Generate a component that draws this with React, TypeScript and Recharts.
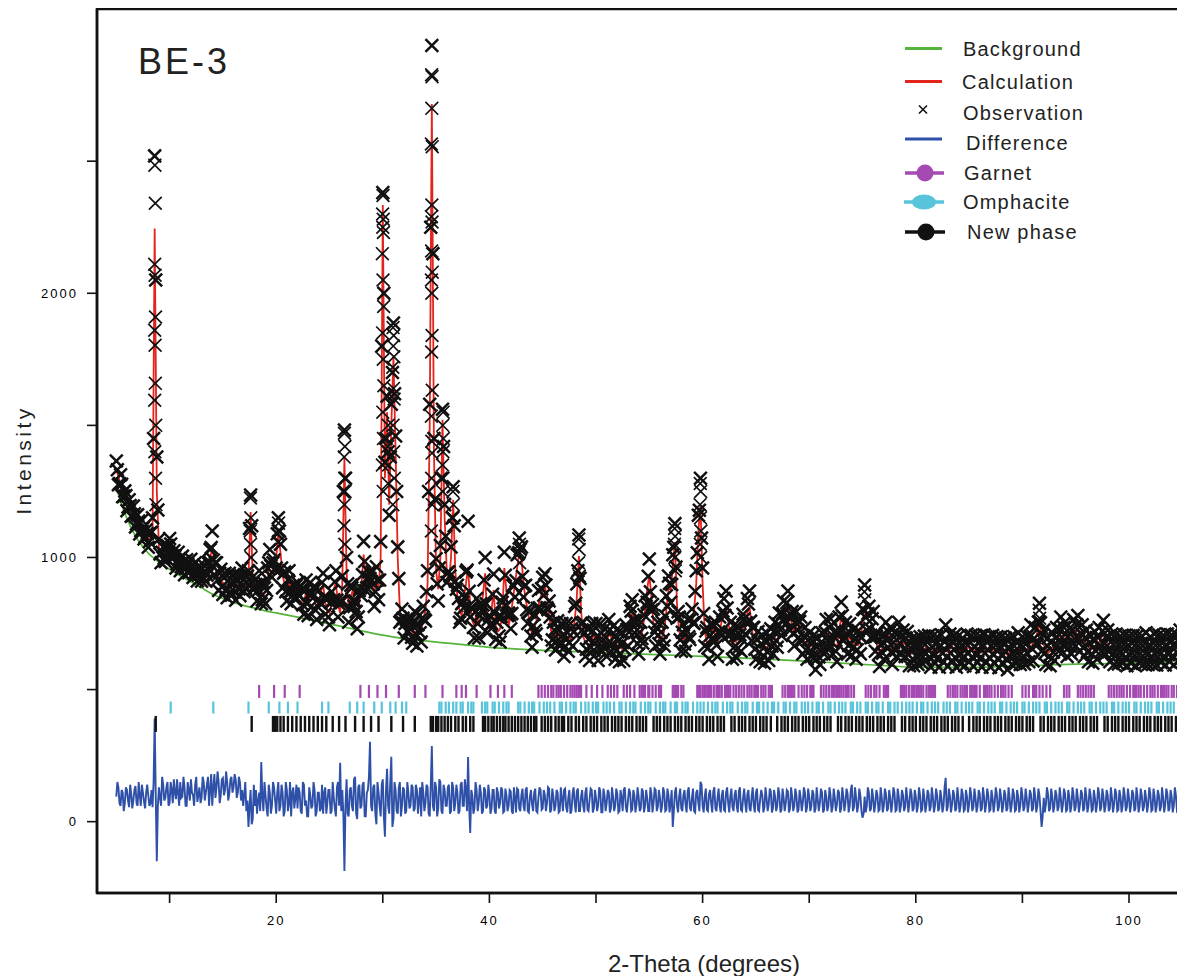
import React from 'react';
import { ComposedChart, Line, Scatter, XAxis, YAxis, ReferenceArea } from 'recharts';

// 2-theta grid of the measured pattern
const ANGLE_START = 5.0;
const ANGLE_STEP = 0.2;

// calculated profile: one row per degree (x.0, x.2, x.4, x.6, x.8)
const calculation = [
  1335, 1305, 1278, 1255, 1232,
  1212, 1193, 1176, 1160, 1145,
  1132, 1119, 1106, 1095, 1084,
  1074, 1068, 1100, 2245, 1250,
  1040, 1010, 1005, 1010, 1025,
  1042, 1035, 1000, 990, 985,
  980, 975, 970, 966, 962,
  958, 954, 950, 946, 944,
  940, 936, 935, 950, 995,
  1040, 980, 940, 920, 910,
  905, 900, 898, 895, 892,
  890, 888, 892, 900, 910,
  915, 890, 930, 1172, 920,
  870, 885, 905, 870, 860,
  870, 920, 1000, 965, 945,
  1000, 1091, 1020, 930, 900,
  880, 910, 870, 850, 890,
  860, 900, 840, 830, 870,
  820, 860, 905, 840, 810,
  830, 870, 900, 830, 800,
  790, 830, 880, 905, 820,
  790, 900, 1378, 950, 800,
  850, 880, 790, 770, 830,
  900, 1011, 920, 880, 960,
  900, 860, 920, 880, 1000,
  2334, 1300, 1550, 1200, 1500,
  1760, 1400, 1000, 800, 760,
  740, 720, 760, 730, 715,
  750, 710, 740, 720, 770,
  800, 900, 1500, 2716, 1400,
  950, 880, 1000, 1521, 1150,
  950, 900, 1000, 1218, 950,
  850, 800, 780, 850, 900,
  964, 820, 760, 740, 800,
  740, 780, 860, 940, 760,
  730, 800, 877, 740, 720,
  730, 780, 960, 870, 740,
  780, 839, 900, 960, 1017,
  1000, 900, 840, 800, 740,
  710, 730, 760, 820, 850,
  870, 888, 860, 780, 720,
  700, 705, 700, 720, 690,
  680, 690, 700, 690, 720,
  760, 850, 1005, 800, 700,
  680, 670, 665, 690, 705,
  690, 665, 690, 700, 670,
  680, 710, 700, 680, 670,
  668, 660, 655, 665, 690,
  720, 760, 790, 770, 700,
  690, 700, 730, 800, 880,
  934, 850, 750, 720, 700,
  690, 700, 720, 800, 880,
  880, 960, 1058, 820, 720,
  700, 690, 700, 710, 740,
  750, 800, 900, 1100, 1198,
  900, 720, 680, 670, 690,
  740, 700, 680, 720, 760,
  790, 813, 760, 700, 670,
  690, 675, 680, 700, 730,
  760, 790, 813, 740, 680,
  670, 665, 660, 650, 655,
  660, 665, 675, 690, 700,
  715, 735, 760, 780, 800,
  813, 780, 740, 720, 740,
  752, 720, 690, 680, 670,
  660, 680, 650, 630, 640,
  650, 660, 690, 710, 713,
  713, 690, 665, 660, 720,
  776, 740, 700, 690, 694,
  685, 675, 670, 668, 690,
  750, 810, 780, 760, 751,
  740, 700, 660, 642, 650,
  670, 700, 715, 680, 650,
  660, 680, 700, 690, 670,
  680, 665, 645, 637, 645,
  640, 650, 645, 655, 648,
  665, 650, 640, 648, 655,
  645, 640, 652, 660, 650,
  642, 655, 665, 650, 640,
  648, 652, 640, 645, 655,
  660, 650, 642, 650, 658,
  648, 640, 652, 660, 645,
  640, 650, 655, 645, 638,
  645, 655, 640, 630, 642,
  650, 645, 655, 660, 650,
  645, 652, 648, 660, 690,
  663, 680, 720, 755, 700,
  670, 650, 640, 645, 660,
  665, 680, 700, 720, 725,
  700, 680, 676, 690, 710,
  720, 725, 700, 690, 680,
  670, 660, 650, 655, 665,
  670, 680, 700, 707, 690,
  670, 660, 655, 650, 655,
  652, 648, 655, 650, 645,
  648, 655, 650, 645, 650,
  655, 648, 652, 660, 650,
  645, 650, 655, 648, 652,
  658, 650, 648, 655, 660,
  652, 648, 655, 662, 670,
  675, 680, 685,
];

// observed counts on the same grid (x.0, x.2, x.4, x.6, x.8)
const observation = [
  1365, 1275, 1313, 1230, 1252,
  1177, 1218, 1156, 1195, 1115,
  1162, 1089, 1141, 1070, 1104,
  1039, 1093, 1150, 2520, 1380,
  1070, 980, 1040, 985, 1045,
  1072, 1000, 1025, 960, 1020,
  950, 1005, 935, 991, 942,
  993, 924, 980, 911, 969,
  910, 971, 910, 980, 1030,
  1100, 935, 980, 875, 955,
  860, 940, 848, 940, 857,
  935, 838, 932, 855, 960,
  870, 925, 950, 1236, 880,
  915, 835, 950, 825, 905,
  825, 960, 1030, 925, 990,
  960, 1150, 1050, 885, 945,
  835, 950, 825, 895, 850,
  905, 855, 880, 785, 915,
  780, 905, 865, 885, 765,
  875, 825, 940, 785, 845,
  745, 870, 840, 950, 775,
  835, 930, 1482, 1000, 755,
  895, 835, 835, 730, 875,
  855, 1061, 875, 925, 920,
  945, 815, 965, 840, 1060,
  2381, 1360, 1610, 1160, 1580,
  1887, 1460, 1040, 755, 805,
  695, 765, 720, 775, 675,
  795, 665, 780, 680, 815,
  760, 950, 1580, 2938, 1450,
  995, 835, 1045, 1561, 1200,
  905, 945, 1040, 1268, 910,
  895, 755, 825, 810, 945,
  1137, 775, 805, 695, 845,
  695, 825, 820, 1000, 715,
  780, 750, 937, 690, 775,
  680, 830, 1020, 820, 790,
  730, 894, 850, 1010, 1074,
  1040, 850, 895, 750, 795,
  660, 785, 710, 875, 800,
  925, 938, 810, 835, 665,
  755, 650, 760, 665, 750,
  625, 750, 645, 750, 665,
  815, 900, 1085, 750, 755,
  625, 730, 610, 750, 650,
  750, 610, 750, 645, 730,
  625, 765, 645, 740, 615,
  728, 605, 715, 610, 745,
  665, 815, 840, 715, 755,
  635, 755, 675, 855, 830,
  994, 800, 805, 665, 755,
  635, 755, 665, 855, 930,
  830, 1010, 1128, 770, 775,
  645, 745, 645, 765, 690,
  805, 750, 950, 1160, 1300,
  960, 665, 735, 615, 745,
  685, 755, 625, 775, 705,
  845, 873, 705, 755, 615,
  745, 620, 735, 645, 785,
  710, 845, 873, 685, 735,
  615, 720, 605, 705, 600,
  715, 610, 730, 635, 755,
  660, 790, 705, 835, 750,
  873, 725, 795, 665, 795,
  697, 775, 635, 735, 615,
  715, 625, 705, 575, 695,
  595, 715, 635, 765, 663,
  768, 635, 720, 605, 775,
  831, 685, 755, 635, 749,
  630, 730, 615, 723, 635,
  805, 896, 725, 815, 696,
  795, 645, 715, 587, 705,
  615, 755, 660, 735, 595,
  715, 625, 755, 635, 725,
  625, 720, 590, 692, 590,
  695, 595, 700, 600, 703,
  610, 705, 585, 703, 600,
  700, 585, 707, 605, 744,
  587, 710, 610, 705, 585,
  703, 597, 695, 590, 710,
  605, 705, 587, 705, 603,
  703, 585, 707, 605, 700,
  585, 705, 600, 700, 583,
  700, 600, 695, 575, 697,
  595, 700, 600, 715, 595,
  700, 597, 703, 605, 745,
  608, 735, 670, 827, 645,
  725, 595, 695, 590, 715,
  610, 735, 645, 775, 670,
  755, 625, 731, 635, 765,
  665, 780, 645, 745, 625,
  725, 605, 705, 600, 720,
  615, 735, 645, 762, 635,
  725, 605, 710, 595, 710,
  597, 703, 600, 705, 590,
  703, 600, 705, 590, 705,
  600, 703, 597, 715, 595,
  700, 595, 710, 593, 707,
  603, 705, 593, 710, 605,
  707, 593, 710, 607, 725,
  620, 735, 630,
];

// observed counts on the intermediate steps (x.1, x.3, x.5, x.7, x.9)
const observationHalf = [
  1332, 1280, 1277, 1232, 1234,
  1191, 1197, 1158, 1165, 1127,
  1138, 1101, 1111, 1078, 1091,
  1060, 1095, 1450, 2050, 1180,
  1013, 1020, 998, 1030, 1022,
  1051, 1006, 1005, 976, 995,
  966, 985, 958, 976, 948,
  968, 940, 958, 933, 954,
  926, 948, 933, 985, 1038,
  990, 980, 915, 940, 888,
  923, 879, 912, 869, 911,
  869, 910, 881, 930, 893,
  885, 930, 1110, 1120, 880,
  898, 875, 903, 840, 885,
  875, 980, 968, 980, 953,
  1090, 1100, 960, 940, 870,
  915, 870, 875, 845, 895,
  860, 890, 820, 875, 825,
  860, 863, 888, 800, 840,
  830, 905, 850, 840, 775,
  830, 835, 908, 838, 825,
  830, 1250, 1300, 900, 810,
  885, 815, 795, 775, 885,
  935, 985, 885, 945, 910,
  900, 870, 915, 915, 1800,
  2000, 1450, 1400, 1380, 1700,
  1620, 1250, 920, 760, 770,
  750, 720, 760, 698, 753,
  710, 745, 715, 770, 765,
  870, 1250, 2250, 2150, 1220,
  900, 960, 1300, 1420, 1080,
  945, 930, 1150, 1120, 880,
  845, 770, 830, 850, 952,
  872, 810, 735, 795, 750,
  780, 800, 915, 825, 765,
  743, 861, 791, 755, 703,
  777, 848, 933, 780, 782,
  788, 892, 912, 1014, 1031,
  928, 892, 802, 795, 703,
  742, 723, 808, 810, 882,
  857, 896, 802, 775, 688,
  725, 681, 728, 680, 707,
  663, 717, 677, 730, 718,
  827, 950, 921, 725, 712,
  653, 690, 660, 723, 676,
  700, 656, 713, 660, 697,
  673, 727, 672, 700, 647,
  686, 636, 678, 653, 727,
  718, 797, 762, 760, 673,
  717, 693, 783, 815, 929,
  870, 822, 717, 735, 673,
  717, 688, 778, 815, 902,
  898, 1039, 964, 795, 688,
  717, 673, 723, 700, 767,
  753, 872, 1018, 1179, 1074,
  788, 722, 657, 705, 693,
  742, 668, 718, 715, 797,
  780, 809, 712, 710, 658,
  705, 656, 708, 690, 767,
  753, 824, 759, 735, 653,
  690, 641, 673, 628, 680,
  641, 692, 665, 720, 686,
  747, 726, 788, 765, 829,
  775, 782, 712, 755, 724,
  758, 683, 703, 650, 687,
  648, 687, 622, 660, 623,
  677, 653, 718, 687, 735,
  680, 700, 645, 715, 726,
  780, 698, 713, 667, 712,
  658, 695, 651, 704, 698,
  802, 773, 788, 731, 768,
  698, 702, 633, 671, 638,
  707, 686, 716, 640, 677,
  648, 712, 677, 705, 653,
  695, 633, 659, 616, 665,
  623, 670, 632, 677, 635,
  680, 623, 662, 627, 672,
  621, 668, 638, 680, 624,
  671, 638, 676, 620, 666,
  628, 668, 625, 675, 636,
  677, 624, 664, 629, 675,
  622, 668, 638, 678, 621,
  667, 631, 668, 617, 664,
  628, 670, 617, 661, 624,
  670, 628, 676, 630, 670,
  627, 672, 636, 700, 655,
  694, 678, 756, 753, 707,
  638, 667, 625, 678, 641,
  695, 668, 728, 698, 735,
  668, 700, 665, 725, 693,
  745, 691, 713, 660, 697,
  643, 677, 635, 685, 646,
  697, 668, 722, 674, 702,
  643, 680, 635, 678, 632,
  672, 630, 671, 623, 669,
  630, 675, 630, 673, 631,
  674, 628, 674, 630, 670,
  626, 675, 634, 675, 633,
  676, 627, 670, 633, 678,
  628, 674, 641, 691, 651,
  700, 661,
];

// difference curve (shifted) on the main grid
const difference = [
  95, 130, 60, 110, 70,
  120, 55, 105, 80, 135,
  60, 100, 140, 75, 110,
  100, 70, 55, 390, -150,
  130, 60, 140, 90, 150,
  70, 120, 160, 85, 110,
  150, 95, 130, 60, 120,
  160, 100, 140, 75, 130,
  90, 150, 110, 170, 120,
  60, 180, 130, 150, 100,
  165, 120, 150, 105, 170,
  130, 160, 110, 150, 120,
  100, 40, -20, 120, 10,
  60, 30, 110, 226, 40,
  100, 20, 110, 60, 130,
  30, 150, 60, 110, 40,
  120, 70, 20, 130, 90,
  50, 110, 30, 140, 80,
  20, 100, 60, 120, 40,
  110, 50, 30, 130, 70,
  120, 40, 90, 20, 150,
  223, 120, -187, 160, 20,
  130, 40, 170, 10, 140,
  60, 150, 20, 120, 302,
  40, 140, -10, 110, 20,
  160, -57, 200, 30, 246,
  10, 120, 30, 150, 60,
  120, 40, 110, 60, 130,
  50, 120, 80, 20, 110,
  70, 130, 20, 286, 40,
  130, 50, 150, 30, 120,
  60, 140, 40, 130, 70,
  110, 40, 150, 60, 120,
  245, -43, 100, 50, 120,
  70, 110, 40, 120, 60,
  100, 50, 120, 30, 110,
  70, 120, 40, 100, 60,
  115, 30, 90, 125, 50,
  100, 60, 120, 40, 95,
  65, 110, 40, 90, 120,
  50, 100, 70, 125, 45,
  95, 60, 110, 40, 85,
  120, 55, 90, 30, 105,
  70, 115, 40, 95, 60,
  110, 45, 85, 120, 50,
  90, 60, 115, 35, 100,
  70, 110, 50, 95, 60,
  105, 40, 90, 120, 55,
  80, 110, 45, 100, 65,
  95, 50, 115, 60, 90,
  40, 105, 70, 120, 55,
  90, 60, 110, 45, 100,
  70, -20, 110, 60, 95,
  50, 100, 65, 115, 55,
  90, 40, 110, 70, 151,
  60, 95, 45, 105, 70,
  115, 50, 90, 60, 100,
  45, 110, 70, 95, 55,
  100, 60, 115, 45, 90,
  70, 105, 50, 95, 60,
  110, 45, 85, 100, 55,
  90, 65, 115, 50, 95,
  60, 105, 45, 90, 70,
  115, 50, 95, 60, 100,
  45, 90, 70, 110, 55,
  95, 60, 105, 50, 85,
  70, 110, 45, 95, 60,
  100, 55, 90, 65, 110,
  50, 95, 70, 105, 60,
  140, 55, 90, 60, 100,
  15, 95, 60, 110, 50,
  90, 65, 100, 45, 95,
  60, 105, 50, 90, 70,
  110, 45, 95, 60, 100,
  55, 90, 70, 105, 50,
  95, 60, 100, 45, 90,
  65, 105, 55, 95, 60,
  100, 50, 90, 60, 166,
  55, 95, 65, 100, 50,
  90, 60, 105, 45, 95,
  65, 100, 55, 90, 60,
  105, 50, 95, 65, 100,
  45, 90, 70, 105, 55,
  95, 60, 100, 50, 90,
  65, 105, 45, 95, 60,
  100, 55, 90, 65, 105,
  50, 95, 60, 100, -20,
  90, 65, 105, 50, 95,
  60, 100, 55, 90, 65,
  105, 45, 95, 60, 100,
  55, 90, 65, 105, 50,
  95, 60, 100, 45, 90,
  65, 105, 55, 95, 60,
  100, 50, 90, 65, 105,
  45, 95, 60, 100, 55,
  90, 65, 105, 50, 95,
  60, 100, 55, 90, 65,
  105, 45, 95, 60, 100,
  55, 90, 65, 105, 50,
  95, 60, 100, 45, 90,
  65, 100, 55,
];

// difference curve on the intermediate steps (x.1, x.3, x.5, x.7, x.9)
const differenceHalf = [
  150, 70, 120, 40, 130,
  80, 140, 50, 120, 70,
  150, 60, 110, 50, 140,
  60, 120, 150, 100, 60,
  90, 170, 80, 130, 60,
  150, 70, 110, 160, 60,
  90, 170, 60, 150, 80,
  110, 60, 170, 100, 70,
  170, 80, 140, 60, 180,
  130, 90, 190, 70, 160,
  100, 190, 80, 160, 110,
  180, 90, 170, 80, 60,
  150, 80, 60, -10, 140,
  120, 80, 40, 90, 150,
  50, 140, 30, 150, 80,
  110, 40, 140, 20, 150,
  40, 150, 110, 50, 140,
  130, 40, 150, 60, 20,
  130, 50, 150, 20, 110,
  40, 140, 110, 30, 120,
  30, 150, 50, 130, 60,
  40, 30, 60, 30, 120,
  60, 160, 30, 130, 50,
  140, 20, 110, 170, 60,
  130, 30, 150, 60, 140,
  20, 120, 60, 150, -20,
  150, 40, 130, 20, 130,
  30, 150, 50, 140, 40,
  140, 30, 130, 150, 40,
  140, 30, 140, 60, 150,
  20, 160, 40, 140, 60,
  130, 30, 150, 40, 140,
  30, 140, 60, 160, 40,
  60, 120, 30, 150, 40,
  140, 30, 130, 50, 140,
  30, 120, 40, 130, 50,
  130, 35, 125, 40, 120,
  40, 130, 35, 120, 40,
  125, 40, 130, 35, 120,
  40, 125, 35, 130, 45,
  120, 40, 130, 35, 125,
  40, 120, 35, 130, 40,
  125, 35, 120, 40, 130,
  35, 125, 40, 120, 35,
  130, 40, 125, 35, 120,
  40, 130, 35, 125, 40,
  120, 35, 130, 40, 125,
  35, 120, 40, 130, 35,
  125, 40, 120, 35, 130,
  40, 125, 35, 120, 40,
  130, 35, 125, 40, 120,
  35, 130, 40, 125, 35,
  120, 40, 130, 35, 125,
  40, 120, 35, 130, 40,
  125, 35, 120, 40, 140,
  35, 125, 40, 120, 35,
  130, 40, 125, 35, 120,
  40, 130, 35, 125, 40,
  120, 35, 130, 40, 125,
  35, 120, 40, 130, 35,
  125, 40, 120, 35, 130,
  40, 125, 35, 120, 40,
  130, 35, 125, 40, 120,
  35, 130, 40, 125, 35,
  120, 40, 130, 35, 125,
  40, 120, 35, 130, 40,
  125, 35, 120, 40, 130,
  35, 125, 40, 120, 35,
  130, 40, 125, 35, 120,
  40, 130, 35, 125, 40,
  30, 35, 130, 40, 125,
  35, 120, 40, 130, 35,
  125, 40, 120, 35, 130,
  40, 125, 35, 120, 40,
  130, 35, 125, 40, 120,
  35, 130, 40, 125, 35,
  120, 40, 130, 35, 125,
  40, 120, 35, 130, 40,
  125, 35, 120, 40, 130,
  35, 125, 40, 120, 35,
  130, 40, 125, 35, 120,
  40, 130, 35, 125, 40,
  120, 35, 130, 40, 125,
  35, 120, 40, 130, 35,
  125, 40, 120, 35, 130,
  40, 125, 35, 120, 40,
  130, 35, 125, 40, 20,
  35, 130, 40, 125, 35,
  120, 40, 130, 35, 125,
  40, 120, 35, 130, 40,
  125, 35, 120, 40, 130,
  35, 125, 40, 120, 35,
  130, 40, 125, 35, 120,
  40, 130, 35, 125, 40,
  120, 35, 130, 40, 125,
  35, 120, 40, 130, 35,
  125, 40, 120, 35, 130,
  40, 125, 35, 120, 40,
  130, 35, 125, 40, 120,
  35, 130, 40, 125, 35,
  120, 40,
];

// background curve
const backgroundAngle = [5, 5.5, 6, 6.5, 7, 7.5, 8, 9, 10, 11, 12, 13, 14, 15, 16, 17, 18, 19, 20, 22, 24, 26, 28, 30, 32, 34, 36, 38, 40, 42, 45, 50, 55, 60, 65, 70, 73, 76, 80, 85, 90, 95, 100, 103, 105.4];
const backgroundValue = [1268, 1200, 1148, 1104, 1068, 1040, 1016, 982, 955, 931, 908, 885, 862, 845, 830, 818, 808, 798, 790, 774, 757, 740, 722, 706, 693, 684, 676, 668, 660, 655, 648, 641, 633, 626, 617, 607, 600, 593, 585, 584, 590, 596, 600, 604, 614];

// extra observed points stacked on the strong reflections
const peakObsAngle = [
  8.62, 8.66, 8.6, 8.64, 8.68, 8.6, 8.64, 8.66, 8.6, 8.7, 8.62, 8.68, 8.72,
  17.58, 17.62, 17.56, 17.6, 17.64,
  20.22, 20.18, 20.24,
  26.4, 26.44, 26.38, 26.42, 26.46, 26.4, 26.36, 26.44,
  30.02, 29.98, 30.04, 30.0, 30.06, 29.96, 30.02, 30.08, 29.98, 30.04, 30.1, 30.0, 30.06, 29.96, 30.04,
  30.96, 31.02, 30.98, 31.04, 30.94, 31.0, 31.06, 30.96, 31.02, 31.08, 30.94,
  30.5, 30.46, 30.54, 30.5,
  34.58, 34.62, 34.6, 34.56, 34.64, 34.6, 34.56, 34.62, 34.58, 34.64, 34.56, 34.6, 34.62, 34.58, 34.64, 34.56, 34.6, 34.62, 34.58, 34.64, 34.56,
  35.66, 35.62, 35.68, 35.64, 35.6, 35.66, 35.62,
  36.58, 36.62, 36.6,
  42.82, 42.78, 42.84,
  48.38, 48.42, 48.36, 48.44,
  57.38, 57.42, 57.36, 57.4, 57.44,
  59.78, 59.82, 59.76, 59.8, 59.84, 59.78, 59.82,
  75.18, 75.22,
  91.58, 91.62,
];
const peakObsValue = [
  2485, 2341, 2110, 2068, 1910, 1860, 1803, 1659, 1595, 1500, 1400, 1300, 1200,
  1225, 1150, 1100, 1050, 1000,
  1130, 1100, 1060,
  1470, 1420, 1380, 1300, 1250, 1200, 1120, 1050,
  2370, 2300, 2280, 2250, 2230, 2150, 2050, 1950, 1850, 1750, 1650, 1550, 1450, 1350, 1250,
  1870, 1840, 1800, 1760, 1720, 1640, 1600, 1500, 1400, 1300, 1200,
  1500, 1420, 1350, 1280,
  2827, 2820, 2700, 2565, 2555, 2334, 2290, 2270, 2160, 2080, 2050, 2000, 1840, 1778, 1633, 1535, 1440, 1395, 1300, 1200, 1100,
  1550, 1500, 1450, 1400, 1350, 1300, 1250,
  1250, 1200, 1150,
  1050, 1020, 980,
  1070, 1030, 980, 930,
  1110, 1080, 1050, 1000, 950,
  1280, 1250, 1200, 1150, 1100, 1050, 1000,
  870, 840,
  800, 770,
];

// reflection positions of each phase
const garnetReflections = [
  18.4, 19.8, 20.8, 22.2,
  27.9, 28.7, 29.5, 30.3, 31.5, 33.0, 34.0, 35.6, 36.9, 37.4, 37.8, 38.8,
  40.1, 40.8, 41.4, 42.1, 44.6, 44.9, 45.2, 45.5, 45.8, 46.0, 46.3, 46.5, 46.7, 47.0, 47.3, 47.6, 47.8, 48.0, 48.2, 48.4, 48.6,
  49.1, 49.6, 50.1, 50.6, 51.1, 51.4, 51.7, 52.0, 52.6, 52.9, 53.2, 53.6, 54.1, 54.3, 54.45, 54.6, 54.9, 55.0, 55.3, 55.6,
  55.9, 56.1, 57.2, 57.35, 57.5, 57.7, 58.0, 58.2,
  59.5, 59.65, 59.8, 60.0, 60.15, 60.3, 60.5, 60.65, 60.8, 61.05, 61.3, 61.45, 61.6, 61.8, 62.1, 62.3, 62.45, 62.6, 62.9,
  63.15, 63.4, 63.65, 63.9, 64.2, 64.4, 64.6, 64.85, 65.0, 65.2, 65.5, 65.7, 65.9, 66.2, 66.35, 66.5,
  67.5, 67.75, 68.0, 68.15, 68.3, 68.45, 68.6, 69.0, 69.3, 69.55, 69.8, 70.1, 70.25, 70.4,
  71.1, 71.35, 71.6, 71.85, 72.1, 72.25, 72.4, 72.6, 72.8, 73.0, 73.2, 73.4, 73.55, 73.7, 73.95, 74.2,
  75.3, 75.55, 75.8, 76.1, 76.3, 76.6, 77.0, 77.2, 77.4,
  78.6, 78.75, 78.9, 79.1, 79.35, 79.6, 79.75, 79.9, 80.1, 80.3, 80.5, 80.7, 81.0, 81.2, 81.35, 81.5, 81.65, 81.8,
  83.0, 83.25, 83.5, 83.7, 83.9, 84.2, 84.4, 84.6, 84.8, 85.1, 85.25, 85.4, 85.55, 85.7, 86.0, 86.4, 86.55, 86.7, 86.9,
  87.1, 87.4, 87.7, 88.0, 88.2, 88.4, 88.7, 89.0,
  90.0, 90.3, 90.6, 91.0, 91.15, 91.3, 91.6, 91.9, 92.25, 92.6,
  93.9, 94.15, 94.4,
  95.2, 95.45, 95.7, 95.95, 96.2, 96.45, 96.7,
  98.1, 98.35, 98.6, 98.85, 99.1, 99.3, 99.5, 99.8, 100.1, 100.4, 100.55, 100.7, 100.9, 101.1, 101.4, 101.7, 102.0, 102.2,
  102.4, 102.7, 103.0, 103.15, 103.3, 103.5, 103.7, 104.0, 104.2, 104.5, 104.8, 105.0, 105.3,
];
const omphaciteReflections = [
  10.1, 14.1, 17.4, 19.3, 20.3, 21.1, 22.0, 24.3, 24.9, 26.9, 27.6, 28.2, 29.2, 29.9, 30.7, 31.2, 31.8, 32.2,
  35.3, 35.5, 35.9, 36.2, 36.6, 36.9, 37.3, 37.5, 38.0, 38.3, 38.5, 39.3, 39.6, 39.8, 40.3, 40.5, 40.9, 41.3, 41.6, 41.8,
  42.7, 42.9, 43.3, 43.7, 44.0, 44.2, 44.7, 45.1, 45.4, 45.7, 46.1, 46.6, 46.8, 47.2, 47.6, 47.9, 48.1, 48.6, 49.0, 49.3,
  49.7, 50.0, 50.2, 50.7, 51.0, 51.3, 51.7, 52.2, 52.4, 52.8, 53.2, 53.5, 53.7, 54.2, 54.6, 54.9, 55.1, 55.6, 56.0, 56.3,
  56.5, 57.0, 57.4, 57.6, 58.1, 58.4, 58.6, 59.1, 59.5, 59.8, 60.1, 60.5, 60.9, 61.2, 61.4, 61.9, 62.3, 62.6, 62.8, 63.3,
  63.7, 64.0, 64.2, 64.7, 65.1, 65.3, 65.7, 66.1, 66.5, 66.7, 67.1, 67.6, 67.8, 68.2, 68.6, 68.8, 69.3, 69.6, 69.9, 70.3,
  70.7, 70.9, 71.3, 71.8, 72.0, 72.4, 72.8, 73.1, 73.4, 73.9, 74.1, 74.5, 74.8, 75.3, 75.5, 75.9, 76.3, 76.5, 76.9, 77.4,
  77.6, 78.0, 78.3, 78.7, 79.1, 79.4, 79.7, 80.1, 80.5, 80.7, 81.1, 81.5, 81.8, 82.1, 82.6, 82.9, 83.2, 83.7, 83.9, 84.3,
  84.7, 85.0, 85.3, 85.8, 86.0, 86.4, 86.8, 87.1, 87.4, 87.9, 88.1, 88.5, 88.9, 89.2, 89.5, 90.0, 90.2, 90.6, 91.0, 91.3,
  91.6, 92.1, 92.3, 92.7, 93.1, 93.4, 93.7, 94.2, 94.4, 94.8, 95.2, 95.5, 95.8, 96.3, 96.5, 96.9, 97.3, 97.6, 97.9, 98.4,
  98.6, 99.0, 99.4, 99.7, 100.0, 100.5, 100.7, 101.1, 101.5, 101.8, 102.1, 102.6, 102.8, 103.2, 103.6, 103.9, 104.2, 104.7,
  104.9, 105.3,
];
const newPhaseReflections = [
  8.7, 17.7, 19.7, 19.9, 20.1, 20.4, 20.7, 21.1, 21.5, 21.9, 22.3, 22.7, 23.1, 23.5, 23.9, 24.3, 24.7, 25.3, 25.9, 26.5,
  27.4, 28.2, 28.9, 29.6, 30.8, 31.9, 33.0,
  34.5, 34.7, 35.0, 35.2, 35.5, 35.8, 36.1, 36.4, 36.8, 37.1, 37.5, 37.8, 38.2, 38.5, 39.4, 39.6, 39.9, 40.2, 40.4, 40.7,
  41.0, 41.3, 41.5, 41.8, 42.1, 42.4, 42.7, 43.0, 43.3, 43.6, 43.9, 44.2, 44.4, 44.9, 45.2, 45.5, 45.8, 46.2, 46.5, 46.8,
  47.0, 47.4, 47.7, 48.1, 48.4, 48.8, 49.1, 49.5, 49.8, 50.1, 50.5, 50.8, 51.1, 51.5, 51.8, 52.1, 52.4, 52.8, 53.1, 53.4,
  53.8, 54.1, 54.4, 54.7, 55.4, 55.7, 56.0, 56.4, 56.7, 57.0, 57.4, 57.7, 58.0, 58.4, 58.7, 59.0, 59.4, 59.7, 60.0, 60.4,
  60.7, 61.0, 61.4, 61.7, 62.0, 62.7, 63.0, 63.4, 63.7, 64.0, 64.4, 64.7, 65.0, 65.4, 65.7, 66.0, 66.4, 67.0, 67.4, 67.7,
  68.0, 68.4, 68.7, 69.0, 69.4, 69.7, 70.0, 70.4, 70.7, 71.0, 71.4, 71.7, 72.0, 72.7, 73.0, 73.4, 73.7, 74.0, 74.4, 74.7,
  75.0, 75.4, 75.7, 76.0, 76.4, 76.7, 77.0, 77.4, 77.7, 78.0, 78.7, 79.0, 79.4, 79.7, 80.0, 80.4, 80.7, 81.0, 81.4, 81.7,
  82.0, 82.4, 82.7, 83.0, 83.4, 83.7, 84.0, 84.4, 85.0, 85.4, 85.7, 86.0, 86.4, 86.7, 87.0, 87.4, 87.7, 88.0, 88.4, 88.7,
  89.0, 89.4, 89.7, 90.0, 90.4, 90.7, 91.0, 91.7, 92.0, 92.4, 92.7, 93.0, 93.4, 93.7, 94.0, 94.4, 94.7, 95.0, 95.4, 95.7,
  96.0, 96.4, 96.7, 97.0, 97.7, 98.0, 98.4, 98.7, 99.0, 99.4, 99.7, 100.0, 100.4, 100.7, 101.0, 101.4, 101.7, 102.0, 102.4,
  102.7, 103.0, 103.4, 103.7, 104.0, 104.4, 104.7, 105.0, 105.3,
];

// vertical level (intensity units) of each phase's reflection row
const GARNET_ROW = 493;
const OMPHACITE_ROW = 432;
const NEW_PHASE_ROW = 370;

const xTicks = [10, 20, 30, 40, 50, 60, 70, 80, 90, 100];
const yTicks = [0, 500, 1000, 1500, 2000, 2500];
const X_DOMAIN: [number, number] = [3.19, 106.19];
const Y_DOMAIN: [number, number] = [-270, 3076];

const legendLabels = ['Background', 'Calculation', 'Observation', 'Difference', 'Garnet', 'Omphacite', 'New phase'];

const GREEN = '#55b43c';
const RED = '#e3241d';
const BLUE = '#2f50a8';
const PURPLE = '#a54ab3';
const CYAN = '#58c4db';
const INK = '#111111';
const FONT = 'Arial, "Liberation Sans", sans-serif';

const angleAt = (i: number) => Math.round((ANGLE_START + i * ANGLE_STEP) * 100) / 100;
const halfAngleAt = (i: number) => Math.round((ANGLE_START + ANGLE_STEP / 2 + i * ANGLE_STEP) * 100) / 100;

const profile = calculation.map((c, i) => ({ tt: angleAt(i), calc: c }));
const bandData = [
  ...observation.map((v, i) => ({ tt: angleAt(i), v })),
  ...observationHalf.map((v, i) => ({ tt: halfAngleAt(i), v })),
];
const peakData = peakObsAngle.map((a, i) => ({ tt: a, v: peakObsValue[i] }));
const diffData: { tt: number; v: number }[] = [];
difference.forEach((v, i) => {
  diffData.push({ tt: angleAt(i), v });
  if (i < differenceHalf.length) diffData.push({ tt: halfAngleAt(i), v: differenceHalf[i] });
});
const backgroundData = backgroundAngle.map((a, i) => ({ tt: a, v: backgroundValue[i] }));
const garnetData = garnetReflections.map((a) => ({ tt: a, v: GARNET_ROW }));
const omphaciteData = omphaciteReflections.map((a) => ({ tt: a, v: OMPHACITE_ROW }));
const newPhaseData = newPhaseReflections.map((a) => ({ tt: a, v: NEW_PHASE_ROW }));

const makeCross = (width: number) => (props: any) => {
  const { cx, cy } = props;
  if (cx == null || cy == null) return <g />;
  const s = 6.4;
  return (
    <path
      d={`M${cx - s},${cy - s}L${cx + s},${cy + s}M${cx - s},${cy + s}L${cx + s},${cy - s}`}
      stroke={INK}
      strokeWidth={width}
      fill="none"
    />
  );
};
const BandCross = makeCross(2.5);
const PeakCross = makeCross(1.7);

const makeTick = (color: string, half: number, width: number) => (props: any) => {
  const { cx, cy } = props;
  if (cx == null || cy == null) return <g />;
  return <line x1={cx} x2={cx} y1={cy - half} y2={cy + half} stroke={color} strokeWidth={width} />;
};
const GarnetTick = makeTick(PURPLE, 6.5, 2.2);
const OmphaciteTick = makeTick(CYAN, 6, 2.2);
const NewPhaseTick = makeTick(INK, 8, 2.4);

const legendRows = [40.5, 73.5, 104.5, 135, 165, 194, 224];
const legendTextX = [955, 954, 955, 958, 956, 955, 959];

export default function App() {
  return (
    <div style={{ position: 'relative', width: 1177, height: 968, overflow: 'hidden', background: '#fff', fontFamily: FONT }}>
      <ComposedChart width={1200} height={968} margin={{ top: 1, right: 13, bottom: 0, left: 29 }}>
        <XAxis
          type="number"
          dataKey="tt"
          domain={X_DOMAIN}
          allowDataOverflow
          ticks={xTicks}
          tickFormatter={(v: number) => (v % 20 === 0 ? String(v) : '')}
          height={83}
          tickSize={10}
          tickMargin={13}
          axisLine={{ stroke: INK, strokeWidth: 2.5 }}
          tickLine={{ stroke: INK, strokeWidth: 1.6 }}
          tick={{ fontSize: 13, fill: '#000', fontFamily: FONT, letterSpacing: 2 }}
        />
        <YAxis
          type="number"
          domain={Y_DOMAIN}
          allowDataOverflow
          ticks={yTicks}
          tickFormatter={(v: number) => (v % 1000 === 0 ? String(v) : '')}
          width={60}
          tickSize={10}
          tickMargin={9}
          axisLine={{ stroke: INK, strokeWidth: 2.5 }}
          tickLine={{ stroke: INK, strokeWidth: 1.6 }}
          tick={{ fontSize: 13, fill: '#000', fontFamily: FONT, letterSpacing: 2 }}
        />
        <ReferenceArea x1={X_DOMAIN[0]} x2={X_DOMAIN[1]} y1={Y_DOMAIN[0]} y2={Y_DOMAIN[1]} fill="none" stroke={INK} strokeWidth={2.5} ifOverflow="visible" />
        <Scatter data={bandData} dataKey="v" shape={BandCross} isAnimationActive={false} />
        <Scatter data={peakData} dataKey="v" shape={PeakCross} isAnimationActive={false} />
        <Line data={backgroundData} dataKey="v" type="monotone" stroke={GREEN} strokeWidth={1.7} dot={false} activeDot={false} isAnimationActive={false} />
        <Line data={profile} dataKey="calc" type="linear" stroke={RED} strokeWidth={1.8} dot={false} activeDot={false} isAnimationActive={false} />
        <Line data={diffData} dataKey="v" type="linear" stroke={BLUE} strokeWidth={1.9} dot={false} activeDot={false} isAnimationActive={false} />
        <Scatter data={garnetData} dataKey="v" shape={GarnetTick} isAnimationActive={false} />
        <Scatter data={omphaciteData} dataKey="v" shape={OmphaciteTick} isAnimationActive={false} />
        <Scatter data={newPhaseData} dataKey="v" shape={NewPhaseTick} isAnimationActive={false} />
      </ComposedChart>
      <svg width={1177} height={968} style={{ position: 'absolute', left: 0, top: 0, pointerEvents: 'none' }} fontFamily={FONT}>
        <text x={130} y={66} fontSize={36} letterSpacing={3} fill="#222">BE-3</text>
        <text transform="translate(23,452) rotate(-90)" textAnchor="middle" fontSize={21} letterSpacing={3.5} fill="#222">Intensity</text>
        <text x={696} y={964} textAnchor="middle" fontSize={24} fill="#222">2-Theta (degrees)</text>
        {legendLabels.map((label, i) => {
          const y = legendRows[i];
          let symbol: React.ReactNode = null;
          if (i === 0) symbol = <line x1={897} x2={934} y1={y} y2={y} stroke={GREEN} strokeWidth={3} />;
          if (i === 1) symbol = <line x1={897} x2={934} y1={y} y2={y} stroke={RED} strokeWidth={3} />;
          if (i === 2) symbol = <path d={`M${911},${y - 7}L${919},${y + 1}M${911},${y + 1}L${919},${y - 7}`} stroke={INK} strokeWidth={1.6} />;
          if (i === 3) symbol = <line x1={897} x2={934} y1={y - 4} y2={y - 4} stroke={BLUE} strokeWidth={3} />;
          if (i === 4) symbol = (
            <g>
              <line x1={897} x2={936} y1={y} y2={y} stroke={PURPLE} strokeWidth={3.5} />
              <circle cx={917} cy={y} r={8.5} fill={PURPLE} />
            </g>
          );
          if (i === 5) symbol = (
            <g>
              <line x1={896} x2={936} y1={y} y2={y} stroke={CYAN} strokeWidth={3.5} />
              <ellipse cx={916} cy={y} rx={12} ry={7.5} fill={CYAN} />
            </g>
          );
          if (i === 6) symbol = (
            <g>
              <line x1={897} x2={937} y1={y} y2={y} stroke={INK} strokeWidth={3.5} />
              <circle cx={918} cy={y} r={8.5} fill={INK} />
            </g>
          );
          return (
            <g key={label}>
              {symbol}
              <text x={legendTextX[i]} y={y + 7} fontSize={20} letterSpacing={1.2} fill="#222">{label}</text>
            </g>
          );
        })}
      </svg>
    </div>
  );
}
